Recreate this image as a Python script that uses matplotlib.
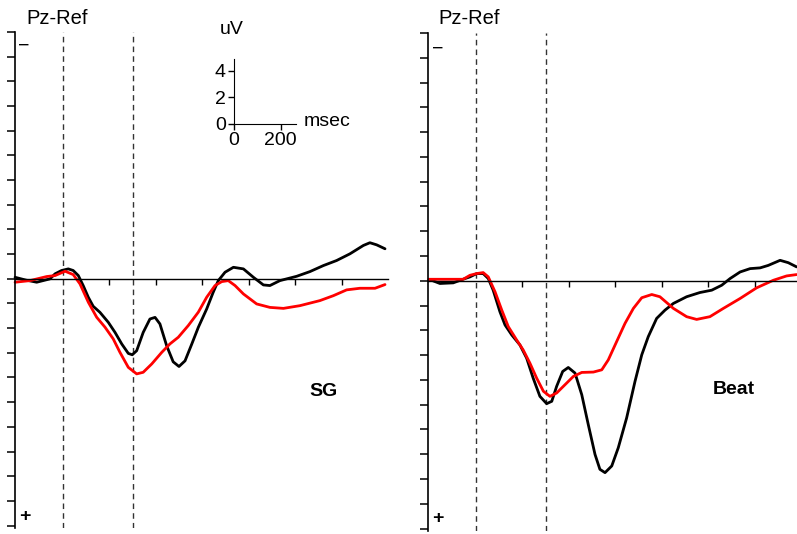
import numpy as np
import matplotlib.pyplot as plt

plt.rcParams['font.family'] = ['Liberation Sans', 'DejaVu Sans']

# ERP waveforms at Pz, time in msec, amplitude in uV (negative plotted up)
sg_black_t = [-206, -159, -113, -56, -34, -6, 23, 44, 66, 87, 109, 130, 159, 195, 224, 253,
              281, 298, 317, 345, 374, 396, 417, 446, 474, 499, 525, 554, 582, 618, 646, 668,
              697, 733, 776, 819, 862, 890, 933, 1005, 1062, 1120, 1177, 1234, 1292, 1320,
              1349, 1385]
sg_black_v = [-0.12, 0.11, 0.28, 0.01, -0.40, -0.67, -0.80, -0.67, -0.26, 0.55, 1.50, 2.23,
              2.72, 3.53, 4.35, 5.29, 6.05, 6.16, 5.83, 4.35, 3.26, 3.13, 3.66, 5.43, 6.73,
              7.11, 6.65, 5.29, 3.94, 2.45, 1.10, 0.15, -0.53, -0.93, -0.80, -0.12, 0.50, 0.55,
              0.15, -0.20, -0.58, -1.07, -1.48, -2.02, -2.70, -2.92, -2.75, -2.43]
sg_red_t = [-206, -142, -70, -34, 9, 44, 73, 109, 145, 181, 216, 245, 281, 317, 345, 382,
            425, 460, 496, 539, 582, 618, 654, 683, 711, 740, 776, 833, 890, 948, 1019, 1105,
            1163, 1220, 1277, 1342, 1385]
sg_red_v = [0.28, 0.15, -0.18, -0.26, -0.61, -0.34, 0.41, 1.90, 3.12, 3.93, 4.87, 5.96, 7.18,
            7.71, 7.58, 6.90, 5.96, 5.28, 4.74, 3.79, 2.71, 1.50, 0.55, 0.23, 0.15, 0.55, 1.23,
            2.04, 2.32, 2.40, 2.18, 1.77, 1.37, 0.90, 0.77, 0.77, 0.47]

beat_black_t = [-202, -155, -98, -47, -26, 3, 31, 53, 74, 103, 125, 154, 189, 218, 246, 275,
                304, 326, 347, 373, 397, 426, 455, 483, 512, 533, 555, 584, 612, 648, 684,
                713, 741, 777, 813, 849, 906, 963, 1014, 1057, 1093, 1136, 1179, 1222, 1257,
                1308, 1343, 1379]
beat_black_v = [-0.12, 0.22, 0.17, -0.18, -0.31, -0.58, -0.58, -0.18, 0.76, 2.50, 3.57, 4.38,
                5.18, 6.25, 7.86, 9.33, 9.92, 9.73, 8.52, 7.32, 7.00, 7.45, 9.20, 11.61, 14.02,
                15.22, 15.49, 14.95, 13.48, 11.07, 8.12, 5.98, 4.51, 3.04, 2.37, 1.83, 1.29,
                0.95, 0.76, 0.36, -0.18, -0.71, -0.98, -1.04, -1.24, -1.65, -1.46, -1.12]
beat_red_t = [-202, -55, -26, 3, 31, 53, 82, 111, 139, 175, 203, 232, 261, 290, 318, 347,
              383, 419, 455, 505, 541, 569, 605, 641, 677, 713, 756, 791, 849, 906, 949, 1006,
              1064, 1136, 1207, 1279, 1336, 1379]
beat_red_v = [-0.12, -0.12, -0.44, -0.58, -0.66, -0.31, 0.89, 2.37, 3.70, 4.78, 5.58, 6.65,
              7.86, 8.92, 9.33, 9.06, 8.39, 7.72, 7.40, 7.37, 7.19, 6.39, 4.91, 3.44, 2.23,
              1.37, 1.11, 1.29, 2.23, 2.90, 3.12, 2.90, 2.23, 1.43, 0.57, -0.04, -0.39, -0.50]

markers_ms = [0, 300]
W, H = 797, 534

fig = plt.figure(figsize=(W / 100, H / 100), dpi=100)


def panel(rect, t1, v1, t2, v2, label, label_xy, minus_xy, plus_xy, title_xy):
    l, top, r, bot = rect
    ax = fig.add_axes([l / W, 1 - bot / H, (r - l) / W, (bot - top) / H])
    ax.set_xlim(-205, 1400)
    ax.set_ylim(20.2, -20)
    ax.patch.set_visible(False)
    for s in ['top', 'right']:
        ax.spines[s].set_visible(False)
    ax.spines['left'].set_linewidth(1.2)
    ax.spines['bottom'].set_position(('data', 0))
    ax.spines['bottom'].set_linewidth(1.0)
    ax.set_yticks(np.arange(-20, 21, 2))
    ax.set_yticklabels([])
    ax.set_xticks(np.arange(200, 1201, 200))
    ax.set_xticklabels([])
    ax.tick_params(axis='y', direction='out', length=5.5, width=1.1)
    ax.tick_params(axis='x', direction='out', length=4.5, width=1.0)
    for m in markers_ms:
        ax.axvline(m, color='#333333', lw=1.0, dashes=(4, 3))
    ax.plot(t1, v1, color='black', lw=2.0, solid_joinstyle='round',
            solid_capstyle='round', clip_on=False)
    ax.plot(t2, v2, color='#ff0000', lw=2.0, solid_joinstyle='round',
            solid_capstyle='round', clip_on=False)
    fig.text(label_xy[0] / W, 1 - label_xy[1] / H, label, fontsize=14, fontweight='bold',
             ha='center', va='center')
    fig.text(minus_xy[0] / W, 1 - minus_xy[1] / H, '\u2212', fontsize=14,
             ha='center', va='center')
    fig.text(plus_xy[0] / W, 1 - plus_xy[1] / H, '+', fontsize=14, fontweight='bold',
             ha='center', va='center')
    fig.text(title_xy[0] / W, 1 - title_xy[1] / H, 'Pz-Ref', fontsize=14.5,
             ha='left', va='baseline')
    return ax


panel((15.3, 32, 388.5, 528), sg_black_t, sg_black_v, sg_red_t, sg_red_v,
      'SG', (323, 392), (24, 46), (25, 516), (26, 24))
panel((428.3, 33, 801.5, 531), beat_black_t, beat_black_v, beat_red_t, beat_red_v,
      'Beat', (734, 390), (438, 49), (438, 519), (438, 24))

# calibration inset
ins = fig.add_axes([234 / W, 1 - 124 / H, 62 / W, 65 / H])
ins.patch.set_visible(False)
ins.set_xlim(0, 265)
ins.set_ylim(0, 4.9)
for s in ['top', 'right']:
    ins.spines[s].set_visible(False)
ins.set_xticks([0, 200])
ins.set_yticks([0, 2, 4])
ins.tick_params(direction='out', length=4, width=1.0, labelsize=14, pad=2)
fig.text(232 / W, 1 - 30 / H, 'uV', fontsize=14, ha='center', va='center')
fig.text(304 / W, 1 - 122 / H, 'msec', fontsize=14, ha='left', va='center')

fig.savefig('out.png', dpi=100)
